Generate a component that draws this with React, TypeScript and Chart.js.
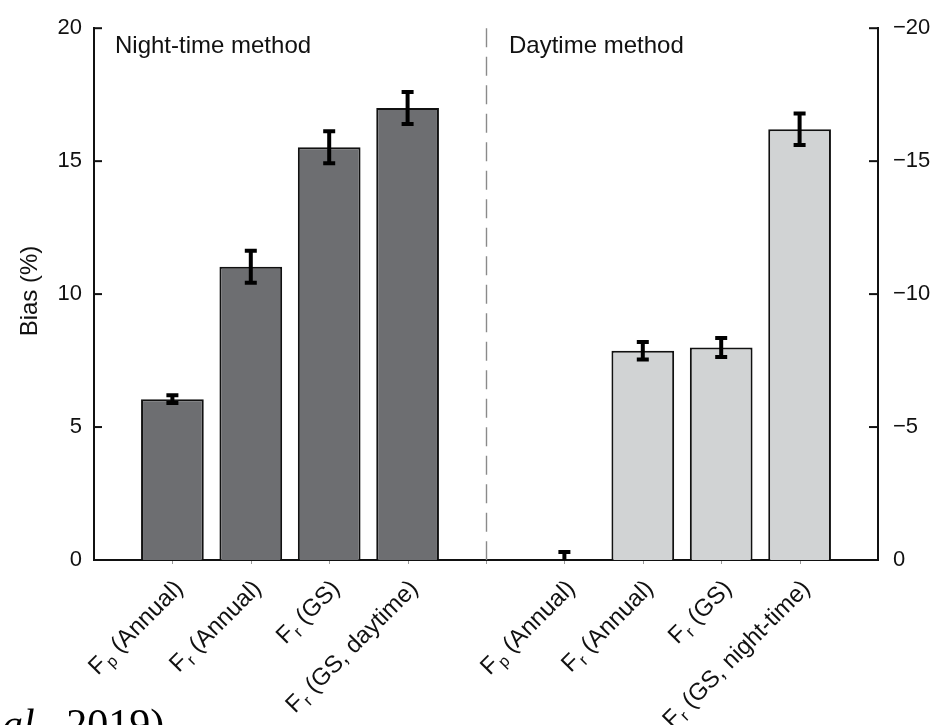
import React, { useEffect, useRef } from 'react';
import { Chart, registerables } from 'chart.js';

Chart.register(...registerables);

// Night-time partitioning method (left axis, positive bias)
const nightFlux = ['p', 'r', 'r', 'r'];
const nightCases = ['(Annual)', '(Annual)', '(GS)', '(GS, daytime)'];
const nightBias = [6.05, 11.03, 15.52, 17.0];
const nightErr = [0.15, 0.6, 0.6, 0.6];

// Daytime partitioning method (right axis, negative bias)
const dayFlux = ['p', 'r', 'r', 'r'];
const dayCases = ['(Annual)', '(Annual)', '(GS)', '(GS, night-time)'];
const dayBias = [0, -7.87, -7.99, -16.2];
const dayErr = [0.3, 0.33, 0.36, 0.59];

const leftTicks = [0, 5, 10, 15, 20];
const rightTicks = [0, -5, -10, -15, -20];

const panelTitles = ['Night-time method', 'Daytime method'];
const yTitle = 'Bias (%)';

const FONT = "'Liberation Sans', Arial, Helvetica, sans-serif";
const INK = '#111111';

// slot layout: 0 empty | 1-4 night | 5 divider | 6-9 day | 10 empty
const pad = (n: number) => Array.from({ length: n }, () => null);
const flux = [...nightFlux, ...dayFlux];
const cases = [...nightCases, ...dayCases];
const slotLabels = ['', ...nightCases.map((c, i) => `F${nightFlux[i]} ${c}`), '', ...dayCases.map((c, i) => `F${dayFlux[i]} ${c}`), ''];
const labelSlots = [1, 2, 3, 4, 6, 7, 8, 9];
const nightData = [null, ...nightBias, ...pad(6)];
const dayData = [...pad(6), ...dayBias, null];
const nightErrData = [null, ...nightErr, ...pad(6)];
const dayErrData = [...pad(6), ...dayErr, null];

const decorPlugin = {
  id: 'decor',
  beforeDatasetsDraw(chart: any) {
    const { ctx, chartArea: a, scales } = chart;
    const xs = scales.x;
    // dashed divider between the two methods
    ctx.save();
    ctx.strokeStyle = '#8a8a8a';
    ctx.lineWidth = 1.4;
    ctx.setLineDash([19, 9.5]);
    const dx = Math.round(xs.getPixelForValue(5)) + 0.5;
    ctx.beginPath();
    ctx.moveTo(dx, a.top);
    ctx.lineTo(dx, a.bottom);
    ctx.stroke();
    ctx.restore();
  },
  afterDatasetsDraw(chart: any) {
    const { ctx, chartArea: a, scales } = chart;
    const errs = [nightErrData, dayErrData];
    ctx.save();
    ctx.beginPath();
    ctx.rect(a.left, a.top - 10, a.right - a.left, a.bottom - a.top + 10);
    ctx.clip();
    ctx.strokeStyle = '#000';
    chart.data.datasets.forEach((ds: any, di: number) => {
      const meta = chart.getDatasetMeta(di);
      const ys = scales[meta.yAxisID];
      ds.data.forEach((v: number | null, j: number) => {
        const e = errs[di][j];
        if (v === null || e === null) return;
        const x = meta.data[j].x;
        const y1 = ys.getPixelForValue(v - e);
        const y2 = ys.getPixelForValue(v + e);
        ctx.lineWidth = 4;
        ctx.beginPath();
        ctx.moveTo(x, y1);
        ctx.lineTo(x, y2);
        ctx.moveTo(x - 6, y1);
        ctx.lineTo(x + 6, y1);
        ctx.moveTo(x - 6, y2);
        ctx.lineTo(x + 6, y2);
        ctx.stroke();
      });
    });
    ctx.restore();
  },
  afterDraw(chart: any) {
    const { ctx, chartArea: a, scales } = chart;
    const xs = scales.x;
    ctx.save();
    // inward tick marks on both value axes
    ctx.strokeStyle = INK;
    ctx.lineWidth = 2;
    leftTicks.forEach((v) => {
      const y = scales.y.getPixelForValue(v);
      ctx.beginPath();
      ctx.moveTo(a.left, y);
      ctx.lineTo(a.left + 8, y);
      ctx.stroke();
    });
    rightTicks.forEach((v) => {
      const y = scales.y2.getPixelForValue(v);
      ctx.beginPath();
      ctx.moveTo(a.right - 9, y);
      ctx.lineTo(a.right, y);
      ctx.stroke();
    });
    // small category ticks under the baseline
    ctx.strokeStyle = '#9a9a9a';
    ctx.lineWidth = 1;
    for (let i = 1; i <= 9; i++) {
      const x = Math.round(xs.getPixelForValue(i)) + 0.5;
      ctx.beginPath();
      ctx.moveTo(x, a.bottom + 1);
      ctx.lineTo(x, a.bottom + 4);
      ctx.stroke();
    }
    // panel titles
    ctx.fillStyle = INK;
    ctx.font = `24px ${FONT}`;
    ctx.textAlign = 'left';
    ctx.textBaseline = 'alphabetic';
    ctx.fillText(panelTitles[0], a.left + 21, 53);
    ctx.fillText(panelTitles[1], xs.getPixelForValue(5) + 23, 53);
    // value axis title
    ctx.save();
    ctx.translate(30, 291);
    ctx.rotate(-Math.PI / 2);
    ctx.textAlign = 'center';
    ctx.textBaseline = 'middle';
    ctx.fillText(yTitle, 0, 0);
    ctx.restore();
    // rotated category labels with flux subscripts
    labelSlots.forEach((slot, k) => {
      const x = xs.getPixelForValue(slot);
      const rest = ' ' + cases[k];
      ctx.save();
      ctx.translate(x + 6, a.bottom + 24);
      ctx.rotate(-Math.PI / 4);
      ctx.font = `24px ${FONT}`;
      const wF = ctx.measureText('F').width;
      const wR = ctx.measureText(rest).width;
      ctx.font = `16px ${FONT}`;
      const wS = ctx.measureText(flux[k]).width + 1;
      let cx = -(wF + wS + wR);
      const base = 8;
      ctx.textAlign = 'left';
      ctx.textBaseline = 'alphabetic';
      ctx.font = `24px ${FONT}`;
      ctx.fillText('F', cx, base);
      cx += wF + 1;
      ctx.font = `16px ${FONT}`;
      ctx.fillText(flux[k], cx, base + 5);
      cx += wS - 1;
      ctx.font = `24px ${FONT}`;
      ctx.fillText(rest, cx, base);
      ctx.restore();
    });
    ctx.restore();
  },
};

export default function App() {
  const ref = useRef<HTMLCanvasElement>(null);

  useEffect(() => {
    const chart = new Chart(ref.current as HTMLCanvasElement, {
      type: 'bar',
      data: {
        labels: slotLabels,
        datasets: [
          {
            label: 'Night-time method',
            data: nightData,
            yAxisID: 'y',
            backgroundColor: '#6d6e71',
            borderColor: INK,
            borderWidth: 2,
          },
          {
            label: 'Daytime method',
            data: dayData,
            yAxisID: 'y2',
            backgroundColor: '#d1d3d4',
            borderColor: INK,
            borderWidth: 2,
          },
        ],
      },
      options: {
        responsive: false,
        animation: false,
        events: [],
        layout: { padding: { top: 22, left: 0, right: 0, bottom: 0 } },
        datasets: {
          bar: { grouped: false, categoryPercentage: 1, barPercentage: 0.8 },
        },
        plugins: { legend: { display: false }, tooltip: { enabled: false } },
        scales: {
          x: {
            type: 'category',
            offset: false,
            grid: { display: false, drawTicks: false, offset: false },
            ticks: { display: false },
            border: { display: true, color: INK, width: 2 },
            afterFit: (s: any) => {
              s.height = 165;
            },
          },
          y: {
            position: 'left',
            min: 0,
            max: 20,
            grid: { display: false, drawTicks: false },
            border: { display: true, color: INK, width: 2 },
            afterBuildTicks: (s: any) => {
              s.ticks = leftTicks.map((v) => ({ value: v }));
            },
            ticks: {
              padding: 12,
              color: INK,
              font: { family: FONT, size: 22 },
              callback: (v: any) => String(v),
            },
            afterFit: (s: any) => {
              s.width = 94;
            },
          },
          y2: {
            position: 'right',
            min: -20,
            max: 0,
            reverse: true,
            grid: { display: false, drawTicks: false },
            border: { display: true, color: INK, width: 2 },
            afterBuildTicks: (s: any) => {
              s.ticks = rightTicks.map((v) => ({ value: v }));
            },
            ticks: {
              padding: 15,
              color: INK,
              font: { family: FONT, size: 22 },
              callback: (v: any) => (v === 0 ? '0' : '\u2212' + Math.abs(v)),
            },
            afterFit: (s: any) => {
              s.width = 59;
            },
          },
        },
      },
      plugins: [decorPlugin],
    } as any);
    return () => chart.destroy();
  }, []);

  return (
    <div
      style={{
        position: 'fixed',
        left: 0,
        top: 0,
        width: 937,
        height: 725,
        overflow: 'hidden',
        background: '#fff',
      }}
    >
      <canvas ref={ref} width={937} height={725} style={{ display: 'block' }} />
      <div
        style={{
          position: 'absolute',
          left: 2,
          top: 703,
          fontFamily: "'Liberation Serif', 'Times New Roman', serif",
          fontSize: 42,
          lineHeight: 1,
          whiteSpace: 'nowrap',
          color: '#000',
        }}
      >
        <i>al.</i>, 2019)
      </div>
    </div>
  );
}
